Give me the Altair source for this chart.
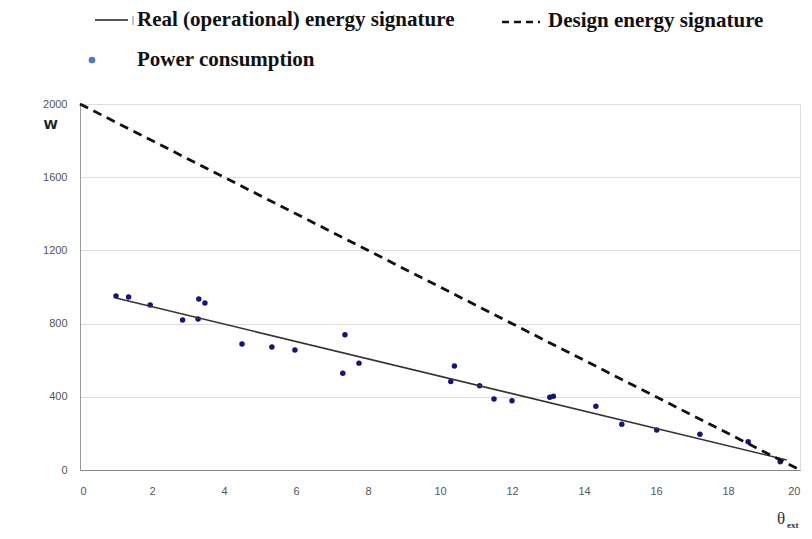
import altair as alt
import pandas as pd

# Measured power consumption points
temp_ext = [1.0, 1.35, 1.95, 2.85, 3.28, 3.3, 3.47, 4.5, 5.33, 5.97, 7.3, 7.36, 7.75,
            10.3, 10.4, 11.1, 11.5, 12.0, 13.05, 13.15, 14.33, 15.05, 16.02, 17.22, 18.56, 19.45]
power = [951, 945, 902, 820, 825, 934, 912, 689, 672, 656, 529, 739, 584,
         483, 568, 461, 388, 379, 398, 403, 348, 250, 219, 195, 155, 45]

# Energy signature lines (end points)
real_x = [1.0, 19.63]
real_y = [940, 55]
design_x = [0.0, 20.0]
design_y = [2000, 0]

x_ticks = [0, 2, 4, 6, 8, 10, 12, 14, 16, 18, 20]
y_ticks = [0, 400, 800, 1200, 1600, 2000]

pts = pd.DataFrame({"t": temp_ext, "p": power})
real = pd.DataFrame({"t": real_x, "p": real_y})
design = pd.DataFrame({"t": design_x, "p": design_y})

xs = alt.Scale(domain=[0, 20], nice=False, zero=False)
ys = alt.Scale(domain=[0, 2000], nice=False)

xax = alt.Axis(values=x_ticks, title=None, grid=False, labelColor="#555555",
               labelFont="Liberation Sans", labelFontSize=11, labelPadding=15,
               domainColor="#888888", ticks=False, format="d")
yax = alt.Axis(values=y_ticks, title="W", titleAngle=0, titleFont="DejaVu Sans",
               titleFontSize=13, titleFontWeight="bold", titleColor="#222222",
               titleX=-37, titleY=27, titleAlign="left",
               gridColor="#dddddd", labelColor="#555555", labelFont="Liberation Sans",
               labelFontSize=11, labelPadding=13, domainColor="#999999", ticks=False,
               format="d")

points = alt.Chart(pts).mark_circle(size=30, color="#14147a", opacity=1).encode(
    x=alt.X("t:Q", scale=xs, axis=xax),
    y=alt.Y("p:Q", scale=ys, axis=yax),
)

real_line = alt.Chart(real).mark_line(color="#333333", strokeWidth=1.6).encode(
    x=alt.X("t:Q", scale=xs), y=alt.Y("p:Q", scale=ys)
)
design_line = alt.Chart(design).mark_line(color="#111111", strokeWidth=2.8,
                                          strokeDash=[9, 6]).encode(
    x=alt.X("t:Q", scale=xs), y=alt.Y("p:Q", scale=ys)
)

# Legend (drawn above the plot)
leg_font = "Liberation Serif"
lt = dict(font=leg_font, fontSize=21, fontWeight="bold", align="left",
          baseline="middle", color="#111111")
legend_labels = ["Real (operational) energy signature", "Design energy signature",
                 "Power consumption"]
leg_real = alt.Chart(pd.DataFrame({"l": [legend_labels[0]]})).mark_text(**lt).encode(
    text="l:N", x=alt.value(57), y=alt.value(-84))
leg_design = alt.Chart(pd.DataFrame({"l": [legend_labels[1]]})).mark_text(**lt).encode(
    text="l:N", x=alt.value(468), y=alt.value(-83))
leg_power = alt.Chart(pd.DataFrame({"l": [legend_labels[2]]})).mark_text(**lt).encode(
    text="l:N", x=alt.value(57), y=alt.value(-44))
sym_real = alt.Chart(pd.DataFrame({"a": [0]})).mark_rule(color="#555555", strokeWidth=2).encode(
    x=alt.value(15), x2=alt.value(48), y=alt.value(-84))
sym_tick = alt.Chart(pd.DataFrame({"a": [0]})).mark_rule(color="#888888", strokeWidth=1).encode(
    x=alt.value(53), y=alt.value(-88), y2=alt.value(-79))
sym_design = alt.Chart(pd.DataFrame({"a": [0]})).mark_rule(color="#111111", strokeWidth=2.5,
                                                          strokeDash=[7, 5]).encode(
    x=alt.value(422), x2=alt.value(460), y=alt.value(-82))
sym_power = alt.Chart(pd.DataFrame({"a": [0]})).mark_circle(size=45, color="#4a7cc0", opacity=1).encode(
    x=alt.value(12), y=alt.value(-44))

theta = alt.Chart(pd.DataFrame({"l": ["θ"]})).mark_text(
    font="Liberation Serif", fontSize=17, align="left", baseline="alphabetic", color="#333333"
).encode(text="l:N", x=alt.value(697), y=alt.value(420))
ext = alt.Chart(pd.DataFrame({"l": ["ext"]})).mark_text(
    font="Liberation Serif", fontSize=9, fontWeight="bold", align="left",
    baseline="alphabetic", color="#333333"
).encode(text="l:N", x=alt.value(707), y=alt.value(424))

chart = alt.layer(
    points, real_line, design_line,
    leg_real, leg_design, leg_power, sym_real, sym_tick, sym_design, sym_power,
    theta, ext
).properties(
    width=720, height=366,
    padding={"left": 72, "top": 96, "right": 4, "bottom": 61},
    autosize=alt.AutoSizeParams(type="none"),
).configure_view(stroke="#dddddd").configure(background="white")

chart.save("out.html", embed_options={"renderer": "svg", "actions": False})
